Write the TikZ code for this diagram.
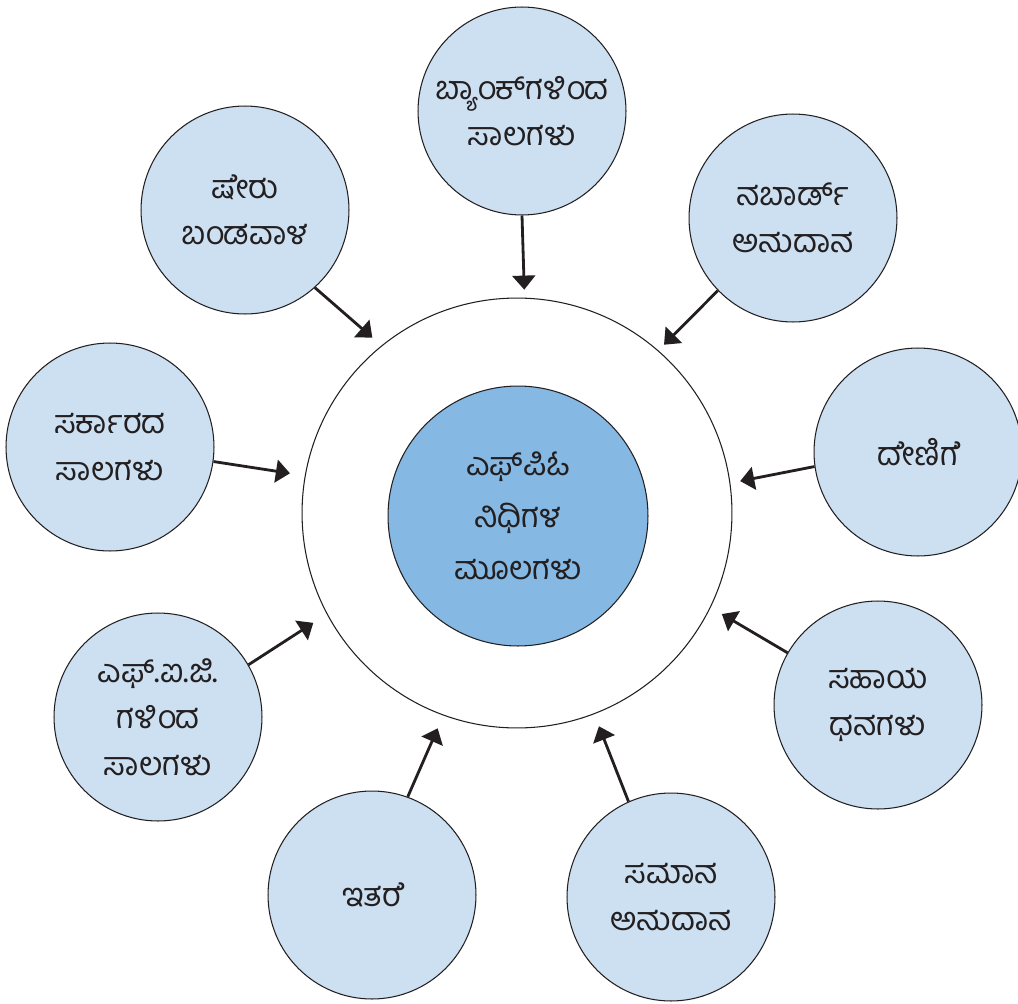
\documentclass[tikz,border=0pt]{standalone}
\usepackage{fontspec}
\newfontfamily\kan[Script=Kannada]{Hind Mysuru}
\usetikzlibrary{arrows.meta}
\definecolor{satfill}{RGB}{204,224,242}
\definecolor{hubfill}{RGB}{133,184,227}
\definecolor{edge}{RGB}{35,31,32}
% vowel sign e drawn as a glyph (the shaper drops it with this font)
\newcommand\esign{\XeTeXglyph354}
\newcommand\Esgn{\setbox2\hbox{\esign}\kern-0.2em\esign\kern-\wd2\kern0.2em}
\newcommand\Lsgn{\XeTeXglyph\XeTeXcharglyph"0CD5 }
\begin{document}
\begin{tikzpicture}[x=0.02cm,y=-0.02cm,
  sat/.style={circle,draw=edge,line width=0.6pt,fill=satfill,minimum size=4.16cm,inner sep=0pt,align=center,text=edge,font=\kan\fontsize{18.5}{26.5}\selectfont},
  ring/.style={circle,draw=edge,line width=0.6pt,minimum size=8.6cm,inner sep=0pt},
  hub/.style={circle,draw=edge,line width=0.6pt,fill=hubfill,minimum size=5.2cm,inner sep=0pt,align=center,text=edge,font=\kan\fontsize{18.5}{29.5}\selectfont},
  arr/.style={draw=edge,line width=1.6pt,-{Triangle[length=8pt,width=13pt]}}]
\useasboundingbox (0,0) rectangle (1018,1004);
\node[ring] (ring) at (517,513) {};
\node[hub] (hub) at (518,516) {ಎಫ್‌ಪಿಓ\\ನಿಧಿಗಳ\\ಮೂಲಗಳು};
\node[sat] (bank) at (522,111) {ಬ್ಯಾಂಕ್‌ಗಳಿಂದ\\ಸಾಲಗಳು};
\node[sat] (share) at (245,210) {ಷ\Esgn\Lsgn ರು\\ಬಂಡವಾಳ};
\node[sat] (nabard) at (793,218) {ನಬಾರ್ಡ್\\ಅನುದಾನ};
\node[sat] (govt) at (110,447) {ಸರ್ಕಾರದ\\ಸಾಲಗಳು};
\node[sat] (donation) at (918,452) {ದ\Esgn\Lsgn ಣಿಗ\Esgn};
\node[sat] (fig) at (158,717) {ಎಫ್.ಐ.ಜಿ.\\ಗಳಿಂದ\\ಸಾಲಗಳು};
\node[sat] (grant) at (878,705) {ಸಹಾಯ\\ಧನಗಳು};
\node[sat] (other) at (372,895) {ಇತರ\Esgn};
\node[sat] (equal) at (671,897) {ಸಮಾನ\\ಅನುದಾನ};
\draw[arr,shorten >=0.16cm] (bank.-90) -- (ring.88.7);
\draw[arr,shorten >=0.24cm] (share.-48) -- (ring.129.8);
\draw[arr,shorten >=0.16cm] (nabard.-136.9) -- (ring.49.7);
\draw[arr,shorten >=0.3cm] (govt.-8.2) -- (ring.170);
\draw[arr,shorten >=0.2cm] (donation.-172.3) -- (ring.8.4);
\draw[arr,shorten >=0.32cm] (fig.30.5) -- (ring.-152);
\draw[arr,shorten >=0.26cm] (grant.150.7) -- (ring.-26.9);
\draw[arr,shorten >=0.28cm] (other.70.7) -- (ring.-110.7);
\draw[arr,shorten >=0.26cm] (equal.114.2) -- (ring.-69.7);
\end{tikzpicture}
\end{document}
